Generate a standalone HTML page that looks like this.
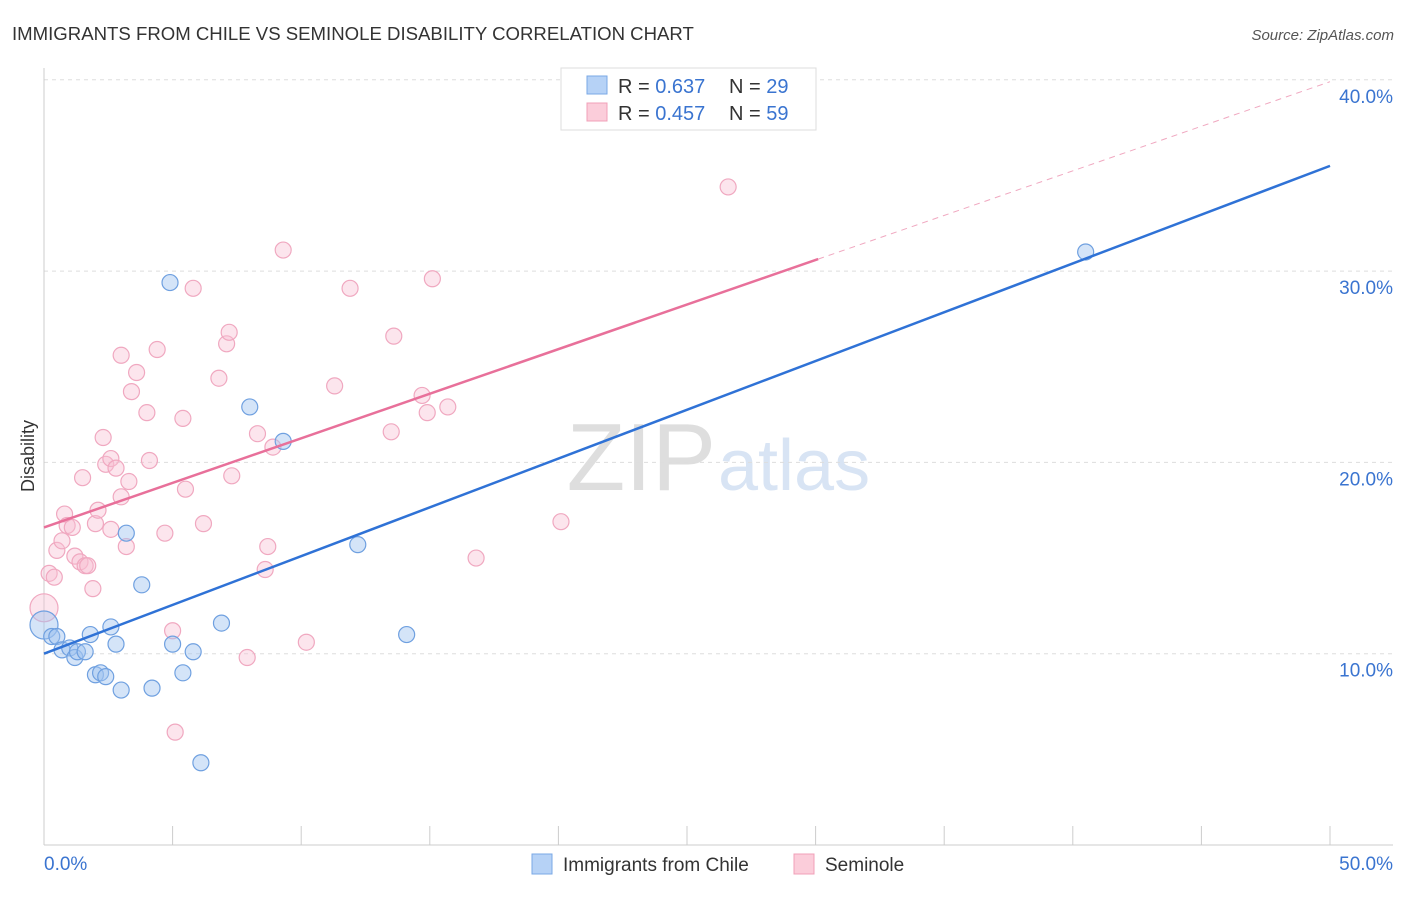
<!DOCTYPE html>
<html><head><meta charset="utf-8">
<style>
body{margin:0;background:#fff;font-family:"Liberation Sans",sans-serif;}
svg text{font-family:"Liberation Sans",sans-serif;}
</style></head>
<body>
<svg id="chart" width="1406" height="892" xmlns="http://www.w3.org/2000/svg">
<text x="12" y="40" font-size="18.6" fill="#333">IMMIGRANTS FROM CHILE VS SEMINOLE DISABILITY CORRELATION CHART</text>
<text x="1394" y="40" font-size="15" fill="#555" font-style="italic" text-anchor="end">Source: ZipAtlas.com</text>
<text x="716" y="490" font-size="96" fill="#dedede" text-anchor="end" font-family="Liberation Serif">ZIP</text>
<text x="718" y="490" font-size="72" fill="#d8e4f4">atlas</text>
<g id="grid"></g>
<g id="axes"></g>
<g id="points"></g>
<g id="trends"></g>
<text transform="translate(34,456) rotate(-90)" font-size="18" fill="#333" text-anchor="middle">Disability</text>
<g>
<rect x="561" y="68" width="255" height="62" fill="#fff" stroke="#ddd"/>
<rect x="587" y="76" width="20" height="18" fill="#b6d2f6" stroke="#7aa8e6"/>
<text x="618" y="93" font-size="20" fill="#333">R = <tspan fill="#3a74d0">0.637</tspan></text>
<text x="729" y="93" font-size="20" fill="#333">N = <tspan fill="#3a74d0">29</tspan></text>
<rect x="587" y="103" width="20" height="18" fill="#fbcdda" stroke="#f0a0b8"/>
<text x="618" y="120" font-size="20" fill="#333">R = <tspan fill="#3a74d0">0.457</tspan></text>
<text x="729" y="120" font-size="20" fill="#333">N = <tspan fill="#3a74d0">59</tspan></text>
</g>
<g>
<rect x="532" y="854" width="20" height="20" fill="#b6d2f6" stroke="#7aa8e6"/>
<text x="563" y="871" font-size="19" fill="#333">Immigrants from Chile</text>
<rect x="794" y="854" width="20" height="20" fill="#fbcdda" stroke="#f0a0b8"/>
<text x="825" y="871" font-size="19" fill="#333">Seminole</text>
</g>
</svg>
<script>
const blueX=[0.0,0.3,0.5,0.7,1.0,1.2,1.3,1.6,1.8,2.0,2.2,2.4,2.6,2.8,3.0,3.2,3.8,4.2,4.9,5.0,5.4,5.8,6.1,6.9,8.0,9.3,12.2,14.1,40.5];
const blueY=[11.5,10.9,10.9,10.2,10.3,9.8,10.1,10.1,11.0,8.9,9.0,8.8,11.4,10.5,8.1,16.3,13.6,8.2,29.4,10.5,9.0,10.1,4.3,11.6,22.9,21.1,15.7,11.0,31.0];
const pinkX=[0.0,0.2,0.4,0.5,0.7,0.8,0.9,1.1,1.2,1.4,1.5,1.6,1.7,1.9,2.0,2.1,2.3,2.4,2.6,2.6,2.8,3.0,3.0,3.2,3.3,3.4,3.6,4.0,4.1,4.4,4.7,5.0,5.1,5.4,5.5,5.8,6.2,6.8,7.1,7.2,7.3,7.9,8.3,8.6,8.7,8.9,9.3,10.2,11.3,11.9,13.5,13.6,14.7,14.9,15.1,15.7,16.8,20.1,26.6];
const pinkY=[12.4,14.2,14.0,15.4,15.9,17.3,16.7,16.6,15.1,14.8,19.2,14.6,14.6,13.4,16.8,17.5,21.3,19.9,16.5,20.2,19.7,18.2,25.6,15.6,19.0,23.7,24.7,22.6,20.1,25.9,16.3,11.2,5.9,22.3,18.6,29.1,16.8,24.4,26.2,26.8,19.3,9.8,21.5,14.4,15.6,20.8,31.1,10.6,24.0,29.1,21.6,26.6,23.5,22.6,29.6,22.9,15.0,16.9,34.4];
const yTicks=[10,20,30,40];
const yTickLabels=["10.0%","20.0%","30.0%","40.0%"];
const xTicks=[0,5,10,15,20,25,30,35,40,45,50];
const blueTrend=[10.0,35.5];
const pinkTrend=[16.6,39.9];
const pinkSolidEnd=30.1;

const NS="http://www.w3.org/2000/svg";
const sx=v=>44+v*25.72;
const sy=v=>845-v*19.13;
function mk(tag,attrs,parent){const e=document.createElementNS(NS,tag);for(const k in attrs)e.setAttribute(k,attrs[k]);parent.appendChild(e);return e;}
const grid=document.getElementById('grid'),axes=document.getElementById('axes'),pts=document.getElementById('points'),tr=document.getElementById('trends');

yTicks.forEach((t,i)=>{
 const l=mk('line',{x1:44,x2:1393,y1:sy(t),y2:sy(t),stroke:'#ddd','stroke-dasharray':'4,4'},grid);
 
 
 const tx=mk('text',{x:1393,y:sy(t)+23,'font-size':19,fill:'#3a74d0','text-anchor':'end'},axes);
 tx.textContent=yTickLabels[i];
 
 
});
const ya=mk('line',{x1:44,x2:44,y1:68,y2:845,stroke:'#ccc'},axes);


const xa=mk('line',{x1:44,x2:1393,y1:845,y2:845,stroke:'#ccc'},axes);


xTicks.forEach(t=>{
 const l=mk('line',{x1:sx(t),x2:sx(t),y1:826,y2:845,stroke:'#ccc'},axes);
 
 
});
const xl0=mk('text',{x:44,y:870,'font-size':19,fill:'#3a74d0'},axes);xl0.textContent='0.0%';


const xl1=mk('text',{x:1393,y:870,'font-size':19,fill:'#3a74d0','text-anchor':'end'},axes);xl1.textContent='50.0%';



function drawPts(X,Y,fill,stroke,name){
 X.forEach((x,i)=>{
  const r=(i===0)?14:8;
  const c=mk('circle',{cx:sx(x),cy:sy(Y[i]),r:r,fill:fill,stroke:stroke,'stroke-width':1.2},pts);
  
  
 });
}
drawPts(pinkX,pinkY,'rgba(248,190,210,0.4)','#f0a8c0','seminole-point');
drawPts(blueX,blueY,'rgba(160,196,240,0.45)','#6fa0e0','chile-point');

const bt=mk('line',{x1:sx(0),y1:sy(blueTrend[0]),x2:sx(50),y2:sy(blueTrend[1]),stroke:'#2f72d6','stroke-width':2.5},tr);


const pAt=x=>pinkTrend[0]+(pinkTrend[1]-pinkTrend[0])*x/50;
const ps=mk('line',{x1:sx(0),y1:sy(pAt(0)),x2:sx(pinkSolidEnd),y2:sy(pAt(pinkSolidEnd)),stroke:'#e8709a','stroke-width':2.5},tr);


const pd=mk('line',{x1:sx(pinkSolidEnd),y1:sy(pAt(pinkSolidEnd)),x2:sx(50),y2:sy(pAt(50)),stroke:'#f0a8c0','stroke-width':1,'stroke-dasharray':'6,5'},tr);


</script>
</body></html>
